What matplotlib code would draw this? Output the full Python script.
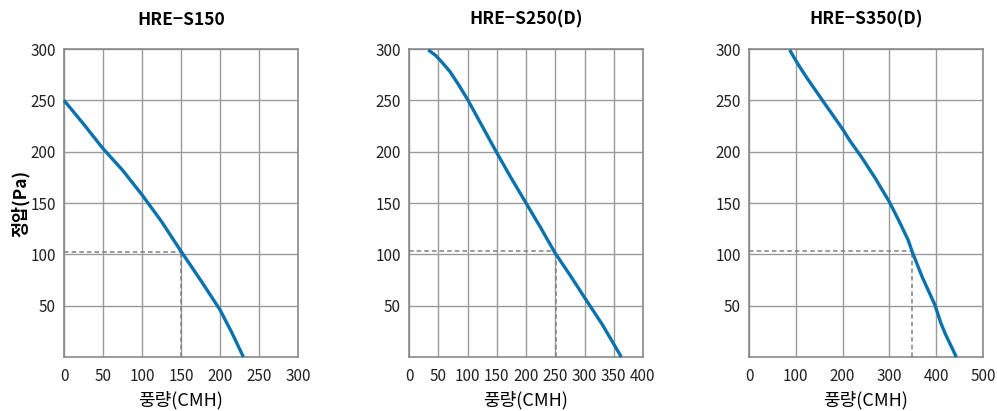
import numpy as np
import matplotlib
matplotlib.use('Agg')
import matplotlib.pyplot as plt

plt.rcParams['font.family'] = ['Noto Sans CJK KR', 'DejaVu Sans']

# 모델별 정압-풍량 곡선
titles = ['HRE\u2212S150', 'HRE\u2212S250(D)', 'HRE\u2212S350(D)']

s150_flow = [0, 25, 50, 75, 100, 125, 150, 175, 200, 215, 230]
s150_pres = [250, 227, 203, 182, 158, 132, 103, 75, 46, 24, 0]

s250_flow = [33, 45, 55, 70, 85, 100, 125, 150, 175, 200, 225, 250, 275, 300, 330, 363]
s250_pres = [299, 294, 288, 278, 265, 251, 225, 199, 174, 150, 126, 101, 80, 58, 32, 0]

s350_flow = [87, 105, 125, 160, 200, 215, 240, 270, 300, 320, 340, 350, 370, 397, 410, 420, 443]
s350_pres = [299, 285, 271, 248, 222, 211, 195, 174, 151, 133, 114, 101, 78, 51, 33, 22, 0]

flows = [s150_flow, s250_flow, s350_flow]
pressures = [s150_pres, s250_pres, s350_pres]

# 운전점 (점선)
op_flow = [150, 252, 348]
op_pres = [102, 103, 103]

x_max = [300, 400, 500]
x_step = [50, 50, 100]

fig = plt.figure(figsize=(9.97, 4.11), dpi=100)
lefts = [64, 409, 749]

for i in range(3):
    ax = fig.add_axes([lefts[i] / 997, 54 / 411, 234 / 997, 308 / 411])
    ax.set_xlim(0, x_max[i])
    ax.set_ylim(0, 300)
    ax.set_xticks(np.arange(0, x_max[i] + 1, x_step[i]))
    ax.set_yticks(np.arange(0, 301, 50))
    ax.set_yticklabels([''] + [str(v) for v in range(50, 301, 50)])
    ax.grid(True, color='#9a9a9a', linewidth=1.0)
    ax.set_axisbelow(True)
    for sp in ax.spines.values():
        sp.set_color('#8a8a8a')
        sp.set_linewidth(1.2)
    ax.tick_params(length=0, labelsize=11, colors='#222222')
    ax.tick_params(axis='x', pad=8)
    ax.tick_params(axis='y', pad=6)

    ax.plot([0, op_flow[i]], [op_pres[i], op_pres[i]], '--', color='#808080', lw=1.1, dashes=(3, 2))
    ax.plot([op_flow[i], op_flow[i]], [0, op_pres[i]], '--', color='#808080', lw=1.1, dashes=(3, 2))
    ax.plot(flows[i], pressures[i], color='#0a72ad', lw=2.4, solid_capstyle='butt', clip_on=False, zorder=5)

    ax.set_title(titles[i], fontsize=12.5, fontweight='bold', pad=17.5)
    ax.set_xlabel('풍량(CMH)', fontsize=13, labelpad=4)
    if i == 0:
        ax.set_ylabel('정압(Pa)', fontsize=12.5, fontweight='bold', labelpad=0)

plt.savefig('out.png', dpi=100)
